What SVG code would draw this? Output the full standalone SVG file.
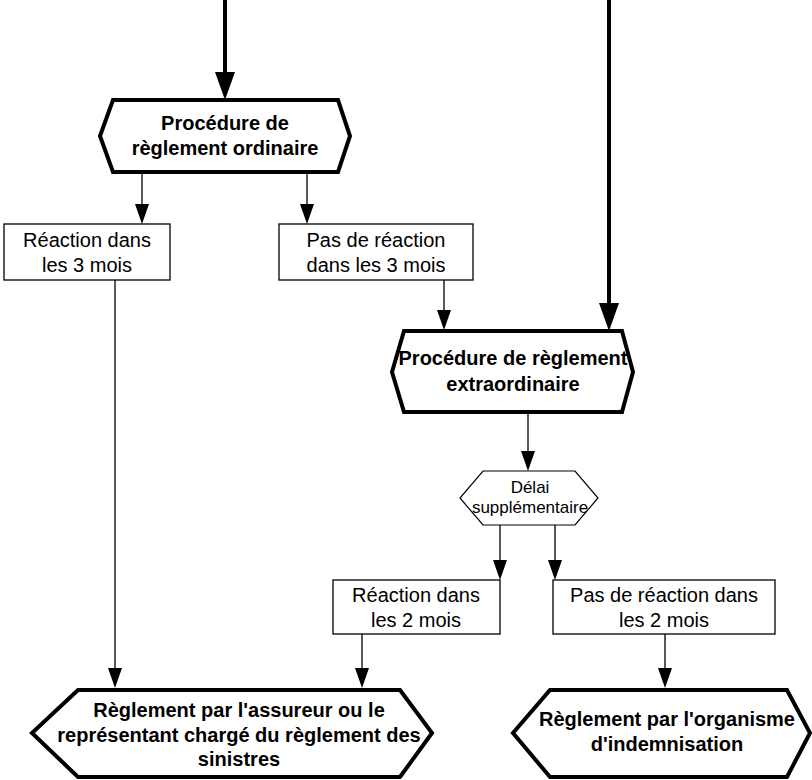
<svg xmlns="http://www.w3.org/2000/svg" width="812" height="780" viewBox="0 0 812 780">
<style>
.hexb{fill:#fff;stroke:#000;stroke-width:4;stroke-linejoin:miter}
.hext{fill:#fff;stroke:#000;stroke-width:1.2}
.box{fill:#fff;stroke:#000;stroke-width:1.3}
.tb{font-family:"Liberation Sans",Arial,sans-serif;font-weight:bold;font-size:20px;text-anchor:middle;fill:#000}
.tr{font-family:"Liberation Sans",Arial,sans-serif;font-size:20px;text-anchor:middle;fill:#000}
.ts{font-family:"Liberation Sans",Arial,sans-serif;font-size:17px;text-anchor:middle;fill:#000}
.thick{stroke:#000;stroke-width:4;fill:none}
.thin{stroke:#000;stroke-width:1.3;fill:none}
</style>
<defs>
<marker id="ahb" markerUnits="userSpaceOnUse" markerWidth="28" markerHeight="20" refX="0" refY="10" orient="auto" viewBox="0 0 28 20">
<path d="M0,0 L28,10 L0,20 z" fill="#000"/>
</marker>
<marker id="ahs" markerUnits="userSpaceOnUse" markerWidth="20" markerHeight="14" refX="0" refY="7" orient="auto" viewBox="0 0 20 14">
<path d="M0,0 L20,7 L0,14 z" fill="#000"/>
</marker>
</defs>
<g id="connectors">
<line class="thick" x1="225" y1="0" x2="225" y2="72" marker-end="url(#ahb)"/>
<line class="thick" x1="609" y1="0" x2="609" y2="303" marker-end="url(#ahb)"/>
<line class="thin" x1="142" y1="174" x2="142" y2="204" marker-end="url(#ahs)"/>
<line class="thin" x1="307" y1="174" x2="307" y2="204" marker-end="url(#ahs)"/>
<line class="thin" x1="444" y1="280" x2="444" y2="310" marker-end="url(#ahs)"/>
<line class="thin" x1="528" y1="414" x2="528" y2="451" marker-end="url(#ahs)"/>
<line class="thin" x1="500" y1="525" x2="500" y2="560" marker-end="url(#ahs)"/>
<line class="thin" x1="555" y1="525" x2="555" y2="560" marker-end="url(#ahs)"/>
<line class="thin" x1="115" y1="280" x2="115" y2="668" marker-end="url(#ahs)"/>
<line class="thin" x1="362" y1="634" x2="362" y2="668" marker-end="url(#ahs)"/>
<line class="thin" x1="665" y1="634" x2="665" y2="668" marker-end="url(#ahs)"/>
</g>
<g id="proc-ordinaire">
<polygon class="hexb" points="113,100 338,100 350,136 338,172 113,172 100,136"/>
<text class="tb" x="225" y="130">Procédure de</text>
<text class="tb" x="225" y="155">règlement ordinaire</text>
</g>
<g id="reaction-3">
<rect class="box" x="4" y="224" width="166" height="56"/>
<text class="tr" x="87" y="247">Réaction dans</text>
<text class="tr" x="87" y="272">les 3 mois</text>
</g>
<g id="pas-reaction-3">
<rect class="box" x="279" y="224" width="194" height="56"/>
<text class="tr" x="376" y="247">Pas de réaction</text>
<text class="tr" x="376" y="272">dans les 3 mois</text>
</g>
<g id="proc-extra">
<polygon class="hexb" points="404,331 622,331 633,372 622,412 404,412 392,372"/>
<text class="tb" x="513" y="365">Procédure de règlement</text>
<text class="tb" x="513" y="391">extraordinaire</text>
</g>
<g id="delai">
<polygon class="hext" points="483,471 575,471 598,498 575,525 483,525 460,498"/>
<text class="ts" x="530" y="493">Délai</text>
<text class="ts" x="530" y="513">supplémentaire</text>
</g>
<g id="reaction-2">
<rect class="box" x="333" y="580" width="167" height="54"/>
<text class="tr" x="416" y="602">Réaction dans</text>
<text class="tr" x="416" y="627">les 2 mois</text>
</g>
<g id="pas-reaction-2">
<rect class="box" x="553" y="580" width="222" height="54"/>
<text class="tr" x="664" y="602">Pas de réaction dans</text>
<text class="tr" x="664" y="627">les 2 mois</text>
</g>
<g id="reglement-assureur">
<polygon class="hexb" points="78,690 400,690 432,733 400,777 78,777 32,733"/>
<text class="tb" x="239" y="717">Règlement par l'assureur ou le</text>
<text class="tb" x="239" y="742">représentant chargé du règlement des</text>
<text class="tb" x="239" y="766">sinistres</text>
</g>
<g id="reglement-organisme">
<polygon class="hexb" points="550,690 787,690 810,733 787,777 550,777 513,733"/>
<text class="tb" x="667" y="726">Règlement par l'organisme</text>
<text class="tb" x="667" y="751">d'indemnisation</text>
</g>
</svg>
